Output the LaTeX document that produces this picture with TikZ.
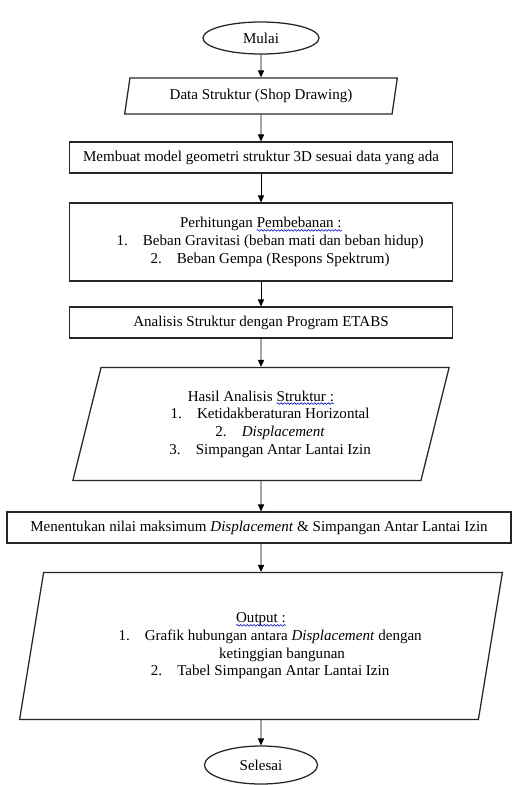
\documentclass[tikz,border=0pt]{standalone}
\usepackage{fontspec}
\setmainfont{Liberation Serif}
\usepackage{xcolor}
\usetikzlibrary{shapes,arrows.meta,decorations.pathmorphing}
\newcommand\spellwave[1]{\tikz[baseline=(w.base)]{\node[shape=rectangle,draw=none,inner sep=0pt,outer sep=0pt,minimum width=0pt,minimum height=0pt](w){#1};
  \draw[blue!75!black,line width=0.4pt,decorate,decoration={snake,amplitude=0.6pt,segment length=2.4pt}]([yshift=-1.8pt]w.base west)--([yshift=-1.8pt]w.base east);}}

\begin{document}
\begin{tikzpicture}[x=0.025cm,y=-0.025cm,>={Triangle[length=5pt,width=4.5pt]},
  box/.style={draw=black!85,line width=0.9pt,inner sep=2pt,align=center,font=\fontsize{10.7}{12.6}\selectfont},
  terminal/.style={box,ellipse},
  proses/.style={box,rectangle},
  io/.style={box,trapezium,trapezium stretches=true}]
\useasboundingbox(0,0)rectangle(512,785);
\node[terminal,minimum width=2.9cm,minimum height=0.8cm](mulai)at(261,38){Mulai};
\node[io,trapezium left angle=79,trapezium right angle=101,minimum width=6.825cm,minimum height=0.9cm](data)at(261,96){Data Struktur (Shop Drawing)};
\node[proses,minimum width=9.575cm,minimum height=0.775cm](model)at(261,157.5){Membuat model geometri struktur 3D sesuai data yang ada};
\node[proses,minimum width=9.575cm,minimum height=1.95cm](beban)at(261,242){Perhitungan \spellwave{Pembebanan :}\\
  \hspace*{13pt}1.\hspace{1em}Beban Gravitasi (beban mati dan beban hidup)\\
  \hspace*{13pt}2.\hspace{1em}Beban Gempa (Respons Spektrum)};
\node[proses,minimum width=9.575cm,minimum height=0.775cm](etabs)at(261,322.5){Analisis Struktur dengan Program ETABS};
\node[io,trapezium left angle=74.7,trapezium right angle=105.3,minimum width=9.425cm,minimum height=2.825cm](hasil)at(261,424){Hasil Analisis \spellwave{Struktur :}\\
  \hspace*{13pt}1.\hspace{1em}Ketidakberaturan Horizontal\\
  \hspace*{13pt}2.\hspace{1em}\textit{Displacement}\\
  \hspace*{13pt}3.\hspace{1em}Simpangan Antar Lantai Izin};
\node[proses,minimum width=12.6cm,minimum height=0.775cm](maks)at(259,527.5){Menentukan nilai maksimum \textit{Displacement} \& Simpangan Antar Lantai Izin};
\node[io,trapezium left angle=75.9,trapezium right angle=104.1,minimum width=12.1cm,minimum height=3.675cm](output)at(261,646){\spellwave{Output :}\\
  \hspace*{13pt}1.\hspace{1em}Grafik hubungan antara \textit{Displacement} dengan\\
  \hspace*{30pt}ketinggian bangunan\\
  \hspace*{13pt}2.\hspace{1em}Tabel Simpangan Antar Lantai Izin};
\node[terminal,minimum width=2.825cm,minimum height=0.95cm](selesai)at(261,765){Selesai};
\draw[->,line width=0.6pt](mulai)--(data);
\draw[->,line width=0.6pt](data)--(model);
\draw[->,line width=0.6pt](model)--(beban);
\draw[->,line width=0.6pt](beban)--(etabs);
\draw[->,line width=0.6pt](etabs)--(hasil);
\draw[->,line width=0.6pt](hasil)--(maks.north-|hasil.south);
\draw[->,line width=0.6pt](maks.south-|output.north)--(output);
\draw[->,line width=0.6pt](output)--(selesai);
\end{tikzpicture}
\end{document}
